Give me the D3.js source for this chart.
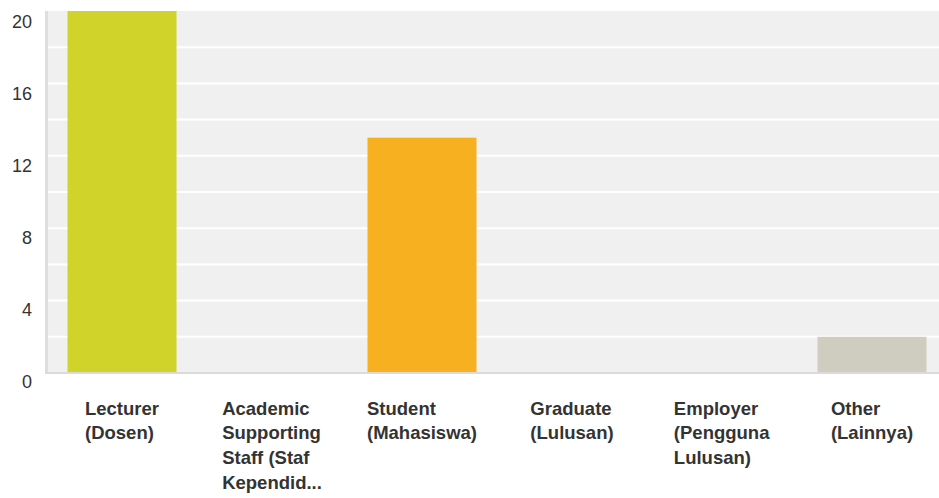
<!DOCTYPE html>
<html>
<head>
<meta charset="utf-8">
<script src="https://cdn.jsdelivr.net/npm/d3@7"></script>
<style>
  html, body { margin: 0; padding: 0; background: #fff; }
  svg { display: block; font-family: "Liberation Sans", Arial, Helvetica, sans-serif; }
</style>
</head>
<body>
<div id="chart"></div>
<script>
// answer categories (wrapped the way the survey tool shows them)
const categories = ["Lecturer", "Academic", "Student", "Graduate", "Employer", "Other"];
const labelLines = [
    ["Lecturer", "(Dosen)"],
    ["Academic", "Supporting", "Staff (Staf", "Kependid..."],
    ["Student", "(Mahasiswa)"],
    ["Graduate", "(Lulusan)"],
    ["Employer", "(Pengguna", "Lulusan)"],
    ["Other", "(Lainnya)"]
];
const counts = [20, 0, 13, 0, 0, 2];
const barColors = ["#d0d32a", "#d0d32a", "#f7b01f", "#f7b01f", "#cfcdbf", "#cfcdbf"];
const yTicks = [0, 4, 8, 12, 16, 20];
const gridValues = [2, 4, 6, 8, 10, 12, 14, 16, 18];

const width = 939;
const height = 498;
const marginTop = 11;
const marginLeft = 47;
const plotBottom = 373;

const svg = d3.select("#chart").append("svg")
    .attr("width", width)
    .attr("height", height)
    .attr("viewBox", [0, 0, width, height]);

const xScale = d3.scaleBand()
    .domain(categories)
    .range([marginLeft, marginLeft + 900])
    .paddingInner(0.2733)
    .paddingOuter(0.1367);

const yScale = d3.scaleLinear()
    .domain([0, 20])
    .range([plotBottom, marginTop]);

// tick labels run on a slightly tighter scale than the grid
const yLabelScale = d3.scaleLinear()
    .domain([0, 20])
    .range([plotBottom + 8.5, marginTop + 10.5]);

// plot background
svg.append("rect")
    .attr("x", marginLeft - 2)
    .attr("y", marginTop)
    .attr("width", width - marginLeft + 2)
    .attr("height", plotBottom - marginTop)
    .attr("fill", "#f0f0f0");

// left border
svg.append("rect")
    .attr("x", marginLeft - 2)
    .attr("y", marginTop)
    .attr("width", 3)
    .attr("height", plotBottom - marginTop + 1)
    .attr("fill", "#dedede");

// white grid lines
svg.append("g")
    .selectAll("line")
    .data(gridValues)
    .join("line")
        .attr("x1", marginLeft + 1)
        .attr("x2", width)
        .attr("y1", d => yScale(d))
        .attr("y2", d => yScale(d))
        .attr("stroke", "#fff")
        .attr("stroke-width", 2);

// bars
svg.append("g")
    .selectAll("rect")
    .data(categories)
    .join("rect")
        .attr("x", d => xScale(d))
        .attr("y", (d, i) => yScale(counts[i]))
        .attr("width", xScale.bandwidth())
        .attr("height", (d, i) => yScale(0) - yScale(counts[i]))
        .attr("fill", (d, i) => barColors[i]);

// baseline
svg.append("rect")
    .attr("x", marginLeft - 2)
    .attr("y", plotBottom - 1)
    .attr("width", width - marginLeft + 2)
    .attr("height", 2)
    .attr("fill", "#dadada");

// y tick labels
svg.append("g")
    .selectAll("text")
    .data(yTicks)
    .join("text")
        .attr("x", 32)
        .attr("y", d => yLabelScale(d))
        .attr("dy", "0.35em")
        .attr("text-anchor", "end")
        .attr("font-size", 18)
        .attr("fill", "#333")
        .text(d => d);

// category labels: block centred on the band, lines left aligned
const labels = svg.append("g")
    .selectAll("text")
    .data(categories)
    .join("text")
        .attr("font-size", 18.5)
        .attr("font-weight", "bold")
        .attr("fill", "#333");

labels.each(function(d, i) {
    const t = d3.select(this);
    labelLines[i].forEach((line, j) => {
        t.append("tspan")
            .attr("x", 0)
            .attr("y", 414.5 + j * 24.7)
            .text(line);
    });
    const w = this.getBBox().width;
    const cx = xScale(d) + xScale.bandwidth() / 2;
    t.attr("transform", `translate(${cx - w / 2},0)`);
});
</script>
</body>
</html>
